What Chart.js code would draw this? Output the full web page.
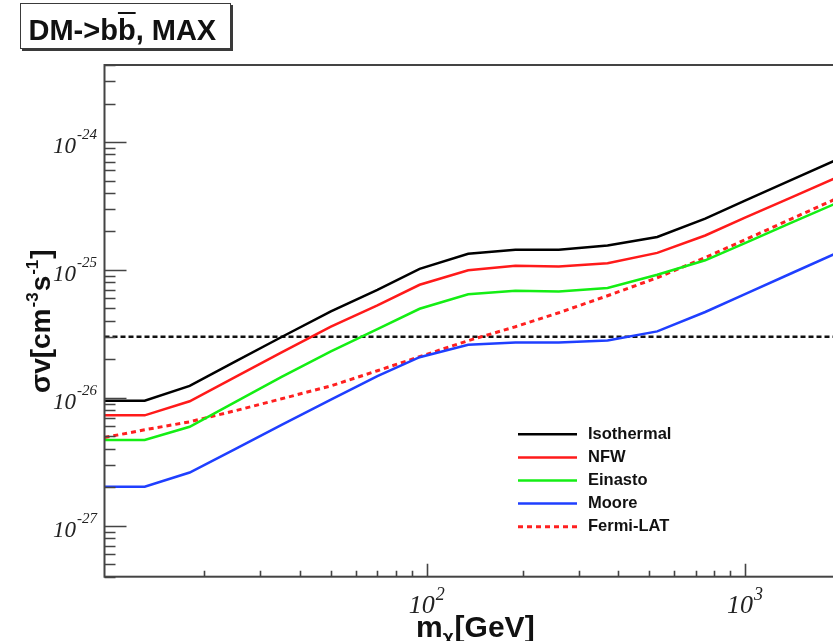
<!DOCTYPE html>
<html>
<head>
<meta charset="utf-8">
<title>DM -> bb, MAX</title>
<script src="https://cdn.jsdelivr.net/npm/chart.js@4.4.0/dist/chart.umd.min.js"></script>
<style>
    html, body { margin: 0; padding: 0; background: #fff; overflow: hidden; }
    #wrap { position: relative; width: 833px; height: 641px; overflow: hidden; }
    #chartLimits { position: absolute; left: 0; top: 0; }
    #title {
        position: absolute; left: 20px; top: 3px; width: 211px; height: 46px;
        box-sizing: border-box; border: 1.5px solid #3a3a3a; box-shadow: 2px 2px 0 #3a3a3a;
        padding: 10px 0 0 7.5px; line-height: 29px; background: #fff;
        font: bold 29px "Liberation Sans", Arial, sans-serif; color: #111; white-space: nowrap;
    }
    #title .bar { text-decoration: overline; text-decoration-thickness: 2px; }
</style>
</head>
<body>
<div id="wrap">
    <canvas id="chartLimits" width="860" height="641"></canvas>
    <div id="title">DM-&gt;b<span class="bar">b</span>, MAX</div>
</div>
<script>
// dark matter mass [GeV] (curves start at the left frame)
const mass = [9.72, 13, 18, 25, 35, 50, 70, 95, 135, 190, 260, 370, 530, 750, 1000, 1400, 2000];

// upper limits on <sigma v> [cm^3 s^-1] per halo profile
const isothermal = [9.5e-27, 9.5e-27, 1.24e-26, 1.92e-26, 2.99e-26, 4.74e-26, 7.0e-26, 1.02e-25, 1.34e-25, 1.44e-25, 1.44e-25, 1.55e-25, 1.81e-25, 2.52e-25, 3.48e-25, 5.05e-25, 7.5e-25];
const nfw = [7.3e-27, 7.3e-27, 9.4e-27, 1.45e-26, 2.27e-26, 3.61e-26, 5.29e-26, 7.66e-26, 9.95e-26, 1.08e-25, 1.065e-25, 1.13e-25, 1.36e-25, 1.86e-25, 2.56e-25, 3.69e-25, 5.45e-25];
const einasto = [4.68e-27, 4.68e-27, 5.94e-27, 9.27e-27, 1.46e-26, 2.31e-26, 3.45e-26, 4.97e-26, 6.46e-26, 6.88e-26, 6.79e-26, 7.22e-26, 9.17e-26, 1.19e-25, 1.62e-25, 2.34e-25, 3.44e-25];
const moore = [2.02e-27, 2.02e-27, 2.61e-27, 3.98e-27, 6.14e-27, 9.7e-27, 1.48e-26, 2.08e-26, 2.6e-26, 2.71e-26, 2.71e-26, 2.81e-26, 3.31e-26, 4.69e-26, 6.48e-26, 9.42e-26, 1.4e-25];
const fermiLat = [4.9e-27, 5.63e-27, 6.5e-27, 7.93e-27, 9.84e-27, 1.24e-26, 1.63e-26, 2.1e-26, 2.8e-26, 3.6e-26, 4.63e-26, 6.28e-26, 8.69e-26, 1.25e-25, 1.72e-25, 2.51e-25, 3.74e-25];

// thermal relic cross section
const relicValue = 3e-26;

// axis ranges
const xMin = 9.72, xMax = 2000;
const yMin = 4e-28, yMax = 4e-24;

// tick labels (decades)
const xLabelExps = [2, 3];
const yLabelExps = [-24, -25, -26, -27];

const legendLabels = ['Isothermal', 'NFW', 'Einasto', 'Moore', 'Fermi-LAT'];

function toPoints(xs, ys) {
    return xs.map((x, i) => ({ x: x, y: ys[i] }));
}

// frame, inward ticks, tick labels, axis titles, legend
const rootStyle = {
    id: 'rootStyle',
    afterDatasetsDraw(chart) {
        const ctx = chart.ctx;
        const area = chart.chartArea;
        const xs = chart.scales.x, ys = chart.scales.y;
        ctx.save();

        // ticks
        ctx.strokeStyle = '#444';
        ctx.lineWidth = 1.6;
        ctx.beginPath();
        for (let e = -28; e <= -24; e++) {
            for (let k = 1; k <= 9; k++) {
                const v = k * Math.pow(10, e);
                if (v < yMin || v > yMax) continue;
                const py = Math.round(ys.getPixelForValue(v)) + 0.5;
                const len = k === 1 ? 22 : 11;
                ctx.moveTo(area.left, py);
                ctx.lineTo(area.left + len, py);
            }
        }
        for (let e = 1; e <= 3; e++) {
            for (let k = 1; k <= 9; k++) {
                const v = k * Math.pow(10, e);
                if (v < 15 || v > xMax) continue;
                const px = Math.round(xs.getPixelForValue(v)) + 0.5;
                const len = k === 1 ? 13 : 6;
                ctx.moveTo(px, area.bottom);
                ctx.lineTo(px, area.bottom - len);
            }
        }
        ctx.stroke();

        // frame
        ctx.lineWidth = 2;
        ctx.strokeStyle = '#444';
        ctx.strokeRect(area.left, area.top, area.right - area.left, area.bottom - area.top);

        // y tick labels
        ctx.fillStyle = '#222';
        ctx.textBaseline = 'alphabetic';
        yLabelExps.forEach(e => {
            const py = ys.getPixelForValue(Math.pow(10, e));
            ctx.font = 'italic 15px "Liberation Serif", serif';
            ctx.textAlign = 'right';
            const expText = String(e);
            ctx.fillText(expText, 97, py - 3);
            const ew = ctx.measureText(expText).width;
            ctx.font = 'italic 23px "Liberation Serif", serif';
            ctx.fillText('10', 97 - ew - 1, py + 11);
        });

        // x tick labels
        xLabelExps.forEach(e => {
            const px = xs.getPixelForValue(Math.pow(10, e));
            ctx.textAlign = 'left';
            ctx.font = 'italic 26px "Liberation Serif", serif';
            const bw = ctx.measureText('10').width;
            ctx.font = 'italic 18px "Liberation Serif", serif';
            const ew = ctx.measureText(String(e)).width;
            const x0 = px - (bw + ew + 1) / 2;
            ctx.font = 'italic 26px "Liberation Serif", serif';
            ctx.fillText('10', x0, 613);
            ctx.font = 'italic 18px "Liberation Serif", serif';
            ctx.fillText(String(e), x0 + bw + 1, 600);
        });

        // x axis title: m_chi [GeV]
        ctx.fillStyle = '#111';
        ctx.textAlign = 'left';
        let tx = 416;
        ctx.font = 'bold 30px "Liberation Sans", Arial, sans-serif';
        ctx.fillText('m', tx, 637);
        tx += ctx.measureText('m').width;
        ctx.font = 'bold 19px "Liberation Sans", Arial, sans-serif';
        ctx.fillText('\u03C7', tx, 643);
        tx += ctx.measureText('\u03C7').width + 1;
        ctx.font = 'bold 30px "Liberation Sans", Arial, sans-serif';
        ctx.fillText('[GeV]', tx, 637);

        // y axis title: sigma v [cm^-3 s^-1]
        ctx.save();
        ctx.translate(50, 393);
        ctx.rotate(-Math.PI / 2);
        let ty = 0;
        const parts = [
            ['\u03C3v[cm', 28, 0],
            ['-3', 17, -12],
            ['s', 28, 0],
            ['-1', 17, -12],
            [']', 28, 0]
        ];
        parts.forEach(p => {
            ctx.font = 'bold ' + p[1] + 'px "Liberation Sans", Arial, sans-serif';
            ctx.fillText(p[0], ty, p[2]);
            ty += ctx.measureText(p[0]).width + 1;
        });
        ctx.restore();

        // legend
        const lx = 518, ly = 434.3, step = 23.1;
        chart.data.datasets.forEach((ds, i) => {
            if (!ds.inLegend) return;
            const yy = ly + i * step;
            ctx.beginPath();
            ctx.strokeStyle = ds.borderColor;
            ctx.lineWidth = ds.borderWidth;
            ctx.setLineDash(ds.borderDash || []);
            ctx.moveTo(lx, yy);
            ctx.lineTo(lx + 59, yy);
            ctx.stroke();
            ctx.setLineDash([]);
            ctx.fillStyle = '#111';
            ctx.font = 'bold 16.5px "Liberation Sans", Arial, sans-serif';
            ctx.textBaseline = 'middle';
            ctx.fillText(ds.label, lx + 70, yy);
        });

        ctx.restore();
    }
};

function loadChart() {
    const ctx = document.getElementById('chartLimits');

    new Chart(ctx, {
        type: 'line',
        data: {
            datasets: [
                { label: legendLabels[0], data: toPoints(mass, isothermal), borderColor: '#000000', borderWidth: 2.5, inLegend: true },
                { label: legendLabels[1], data: toPoints(mass, nfw), borderColor: '#ff1a1a', borderWidth: 2.5, inLegend: true },
                { label: legendLabels[2], data: toPoints(mass, einasto), borderColor: '#14ee14', borderWidth: 2.5, inLegend: true },
                { label: legendLabels[3], data: toPoints(mass, moore), borderColor: '#1f3fff', borderWidth: 2.5, inLegend: true },
                { label: legendLabels[4], data: toPoints(mass, fermiLat), borderColor: '#ff2020', borderWidth: 3, borderDash: [5, 4], inLegend: true },
                { label: 'relic', data: toPoints([xMin, xMax], [relicValue, relicValue]), borderColor: '#111111', borderWidth: 2.5, borderDash: [5, 3], inLegend: false }
            ]
        },
        options: {
            responsive: false,
            animation: false,
            devicePixelRatio: 1,
            layout: { padding: { left: 104.5, top: 65, right: 19.2, bottom: 64.3 } },
            elements: {
                point: { radius: 0, hoverRadius: 0 },
                line: { tension: 0, fill: false }
            },
            plugins: {
                legend: { display: false },
                tooltip: { enabled: false },
                title: { display: false }
            },
            scales: {
                x: { type: 'logarithmic', display: false, min: xMin, max: xMax },
                y: { type: 'logarithmic', display: false, min: yMin, max: yMax }
            }
        },
        plugins: [rootStyle]
    });
}

loadChart();
</script>
</body>
</html>
